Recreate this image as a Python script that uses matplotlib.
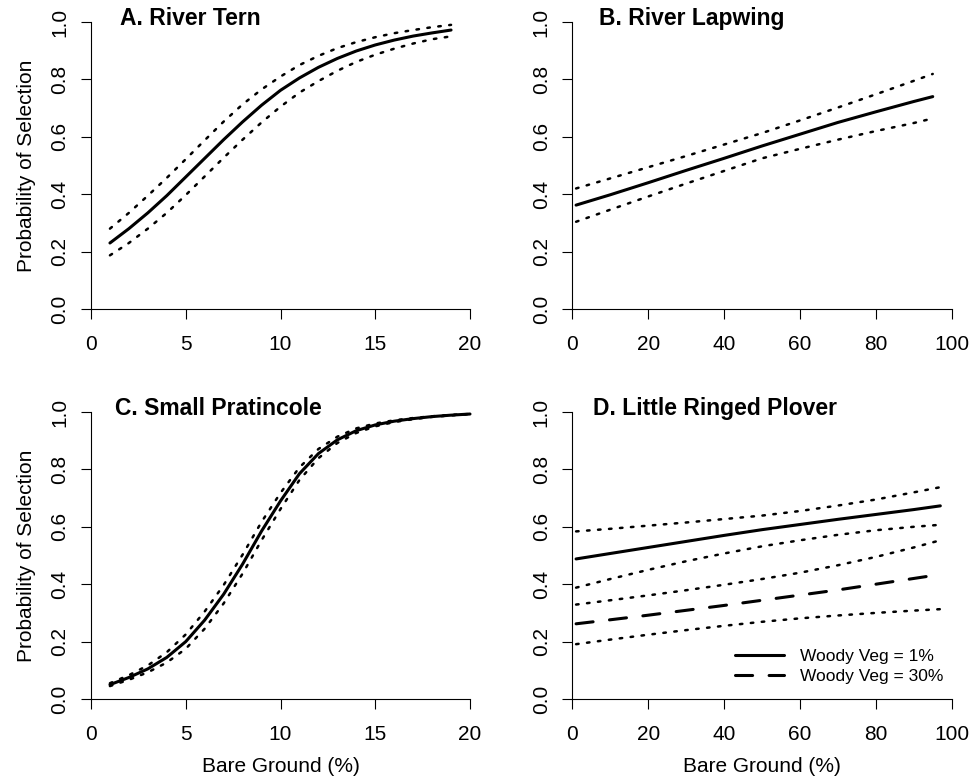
import matplotlib
matplotlib.use("Agg")
import matplotlib.pyplot as plt

plt.rcParams['font.family'] = ['Liberation Sans', 'DejaVu Sans']

# A. River Tern (bare ground 1-19 %)
tern_x = [1, 2, 3, 4, 5, 6, 7, 8, 9, 10, 11, 12, 13, 14, 15, 16, 17, 18, 19]
tern_fit = [0.23, 0.28, 0.335, 0.395, 0.46, 0.525, 0.59, 0.652, 0.71, 0.762,
            0.805, 0.842, 0.873, 0.899, 0.92, 0.937, 0.951, 0.962, 0.972]
tern_upper = [0.28, 0.335, 0.395, 0.457, 0.522, 0.588, 0.653, 0.713, 0.765, 0.81,
              0.85, 0.882, 0.909, 0.93, 0.947, 0.961, 0.972, 0.982, 0.99]
tern_lower = [0.187, 0.23, 0.28, 0.335, 0.397, 0.462, 0.527, 0.59, 0.65, 0.705,
              0.754, 0.794, 0.83, 0.861, 0.886, 0.907, 0.925, 0.94, 0.95]

# B. River Lapwing (bare ground 1-95 %)
lapwing_x = [1, 10, 20, 30, 40, 50, 60, 70, 80, 90, 95]
lapwing_fit = [0.362, 0.398, 0.44, 0.483, 0.525, 0.568, 0.609, 0.65, 0.687, 0.723, 0.74]
lapwing_upper = [0.42, 0.455, 0.494, 0.533, 0.573, 0.613, 0.657, 0.702, 0.748, 0.795, 0.819]
lapwing_lower = [0.304, 0.346, 0.392, 0.437, 0.481, 0.525, 0.558, 0.59, 0.62, 0.648, 0.664]

# C. Small Pratincole (bare ground 1-20 %)
pratincole_x = [1, 2, 3, 4, 5, 6, 7, 8, 9, 10, 11, 12, 13, 14, 15, 16, 17, 18, 19, 20]
pratincole_fit = [0.05, 0.075, 0.105, 0.145, 0.20, 0.275, 0.365, 0.47, 0.585, 0.69,
                  0.785, 0.855, 0.903, 0.935, 0.955, 0.968, 0.977, 0.984, 0.989, 0.993]
pratincole_upper = [0.055, 0.083, 0.117, 0.163, 0.225, 0.305, 0.397, 0.503, 0.617, 0.718,
                    0.807, 0.871, 0.914, 0.943, 0.96, 0.971, 0.979, 0.985, 0.99, 0.993]
pratincole_lower = [0.045, 0.067, 0.093, 0.127, 0.175, 0.245, 0.333, 0.437, 0.553, 0.662,
                    0.763, 0.839, 0.892, 0.927, 0.95, 0.965, 0.975, 0.983, 0.988, 0.993]

# D. Little Ringed Plover, two woody vegetation levels
plover_x = [1, 10, 20, 30, 40, 50, 60, 70, 80, 90, 97]
plover_fit1 = [0.488, 0.507, 0.528, 0.549, 0.57, 0.59, 0.608, 0.626, 0.643, 0.66, 0.673]
plover_upper1 = [0.584, 0.593, 0.604, 0.615, 0.627, 0.639, 0.655, 0.674, 0.695, 0.72, 0.738]
plover_lower1 = [0.388, 0.418, 0.45, 0.48, 0.507, 0.532, 0.553, 0.572, 0.588, 0.60, 0.607]
plover_fit30 = [0.262, 0.276, 0.292, 0.309, 0.326, 0.344, 0.362, 0.38, 0.40, 0.42, 0.434]
plover_upper30 = [0.329, 0.344, 0.361, 0.379, 0.398, 0.418, 0.44, 0.466, 0.495, 0.528, 0.553]
plover_lower30 = [0.191, 0.207, 0.224, 0.24, 0.255, 0.269, 0.281, 0.291, 0.30, 0.308, 0.313]

titles = ['A. River Tern', 'B. River Lapwing', 'C. Small Pratincole', 'D. Little Ringed Plover']
legend_labels = ['Woody Veg = 1%', 'Woody Veg = 30%']

FIT = dict(color='black', lw=2.2, solid_capstyle='round', clip_on=False)
DOT = dict(color='black', lw=1.8, dashes=(1.0, 3.4), dash_capstyle='round', clip_on=False)
DASH = dict(color='black', lw=2.2, dashes=(5.6, 5.4), dash_capstyle='round', clip_on=False)


def r_style(ax, xmax, xticks):  # base R look: L axes, ticks out, rotated y labels
    ax.set_xlim(0, xmax)
    ax.set_ylim(0, 1)
    ax.spines['top'].set_visible(False)
    ax.spines['right'].set_visible(False)
    for s in ('left', 'bottom'):
        ax.spines[s].set_linewidth(0.8)
    ax.set_xticks(xticks)
    ax.set_yticks([0, 0.2, 0.4, 0.6, 0.8, 1.0])
    ax.set_yticklabels(['0.0', '0.2', '0.4', '0.6', '0.8', '1.0'], rotation=90, va='center')
    ax.tick_params(direction='out', length=7.5, width=0.8, labelsize=15)
    ax.tick_params(axis='x', pad=11)
    ax.tick_params(axis='y', pad=8)


fig = plt.figure(figsize=(9.74, 7.82), dpi=100)
W = 974.0
H = 782.0
left_cols = [91, 572.3]
right_cols = [470, 951.7]
tops = [22, 412]
bottoms = [309, 699]

axes = []
for r in range(2):
    for c in range(2):
        ax = fig.add_axes([left_cols[c] / W, 1 - bottoms[r] / H,
                           (right_cols[c] - left_cols[c]) / W, (bottoms[r] - tops[r]) / H])
        axes.append(ax)

axA, axB, axC, axD = axes

axA.plot(tern_x, tern_upper, **DOT)
axA.plot(tern_x, tern_lower, **DOT)
axA.plot(tern_x, tern_fit, **FIT)
r_style(axA, 20, [0, 5, 10, 15, 20])

axB.plot(lapwing_x, lapwing_upper, **DOT)
axB.plot(lapwing_x, lapwing_lower, **DOT)
axB.plot(lapwing_x, lapwing_fit, **FIT)
r_style(axB, 100, [0, 20, 40, 60, 80, 100])

axC.plot(pratincole_x, pratincole_upper, **DOT)
axC.plot(pratincole_x, pratincole_lower, **DOT)
axC.plot(pratincole_x, pratincole_fit, **FIT)
r_style(axC, 20, [0, 5, 10, 15, 20])

axD.plot(plover_x, plover_upper1, **DOT)
axD.plot(plover_x, plover_lower1, **DOT)
axD.plot(plover_x, plover_upper30, **DOT)
axD.plot(plover_x, plover_lower30, **DOT)
l1, = axD.plot(plover_x, plover_fit1, **FIT)
l2, = axD.plot(plover_x, plover_fit30, **DASH)
r_style(axD, 100, [0, 20, 40, 60, 80, 100])

# panel titles sit inside the plot, just under the top of the y axis
title_x = [1.53, 7.0, 1.27, 5.5]
for ax, t, tx in zip(axes, titles, title_x):
    ax.text(tx, 0.99, t, fontsize=16.5, fontweight='bold', ha='left', va='baseline')

for ax in (axA, axC):
    ax.set_ylabel('Probability of Selection', fontsize=15)
    ax.yaxis.set_label_coords(-0.145, 0.5)
for ax in (axC, axD):
    ax.set_xlabel('Bare Ground (%)', fontsize=15)
    ax.xaxis.set_label_coords(0.5, -0.201)

axD.legend([l1, l2], legend_labels, loc='center left',
           bbox_to_anchor=((735 - 572.3) / 379.4, (699 - 666.5) / 287),
           frameon=False, fontsize=12.5, borderpad=0, borderaxespad=0,
           handlelength=2.8, handletextpad=0.95, labelspacing=0.28)

fig.savefig('out.png', dpi=100)
